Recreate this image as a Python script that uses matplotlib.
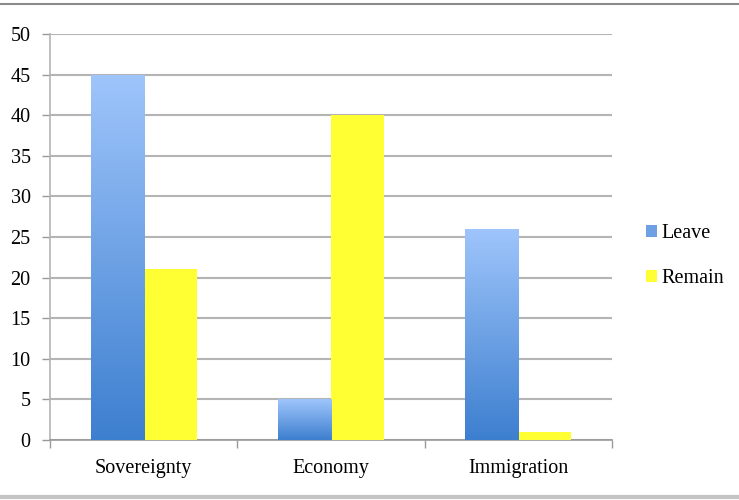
import numpy as np
import matplotlib
matplotlib.use("Agg")
import matplotlib.pyplot as plt
from matplotlib.colors import LinearSegmentedColormap
from matplotlib.lines import Line2D
from matplotlib.patches import Patch

# Data
categories = ["Sovereignty", "Economy", "Immigration"]
leave = [45, 5, 26]
remain = [21, 40, 1]
yticks = [0, 5, 10, 15, 20, 25, 30, 35, 40, 45, 50]

plt.rcParams["font.family"] = ["Liberation Serif", "DejaVu Serif"]

fig = plt.figure(figsize=(7.39, 5.0), dpi=100)
ax = fig.add_axes([50 / 739, 60 / 500, 562 / 739, 406 / 500])

x = np.arange(len(categories))
w = 0.283

leave_bars = ax.bar(x - w / 2, leave, w, color="none", zorder=3)
remain_bars = ax.bar(x + w / 2, remain, w, color="#ffff33", zorder=3)

# blue gradient in each leave bar (light at top, dark at bottom)
blue = LinearSegmentedColormap.from_list("bl", ["#3d7fcf", "#9fc5fb"])
grad = np.linspace(0, 1, 256).reshape(-1, 1)
for b in leave_bars:
    x0, y0 = b.get_x(), b.get_y()
    im = ax.imshow(grad, cmap=blue, origin="lower", aspect="auto",
                   extent=[x0, x0 + b.get_width(), y0, y0 + b.get_height()],
                   zorder=3)
    im.set_clip_path(b)

ax.set_xlim(-0.5, 2.5)
ax.set_ylim(0, 50)
ax.set_yticks(yticks)
ax.yaxis.grid(True, color="#b4b4b4", linewidth=1.5, zorder=0)
ax.set_axisbelow(True)

ax.set_xticks(x)
ax.set_xticklabels(categories, fontsize=14.5)
ax.tick_params(axis="x", length=0, pad=14)
ax.set_xticks([-0.5, 0.5, 1.5, 2.5], minor=True)
ax.tick_params(axis="x", which="minor", length=6, color="#999999", width=1)
ax.tick_params(axis="y", length=6, color="#999999", width=1, labelsize=14.5, pad=8)

for s in ["top", "right"]:
    ax.spines[s].set_visible(False)
ax.spines["left"].set_color("#b4b4b4")
ax.spines["bottom"].set_color("#999999")
ax.spines["left"].set_linewidth(1.2)
ax.spines["bottom"].set_linewidth(1.2)

handles = [Patch(facecolor="#6fa0e3", edgecolor="none", label="Leave"),
           Patch(facecolor="#ffff33", edgecolor="none", label="Remain")]
fig.legend(handles=handles, loc="center left", bbox_to_anchor=(628 / 739, 1 - 256 / 500),
           frameon=False, fontsize=14.5, handlelength=0.55, handleheight=0.55,
           handletextpad=0.2, labelspacing=1.3)

# frame lines of the slide
fig.add_artist(Line2D([0, 1], [1 - 4 / 500, 1 - 4 / 500], color="#8a8a8a", linewidth=1.5))
fig.add_artist(Line2D([0, 1], [1 - 497 / 500, 1 - 497 / 500], color="#c4c4c4", linewidth=3))

fig.savefig("out.png", dpi=100)
